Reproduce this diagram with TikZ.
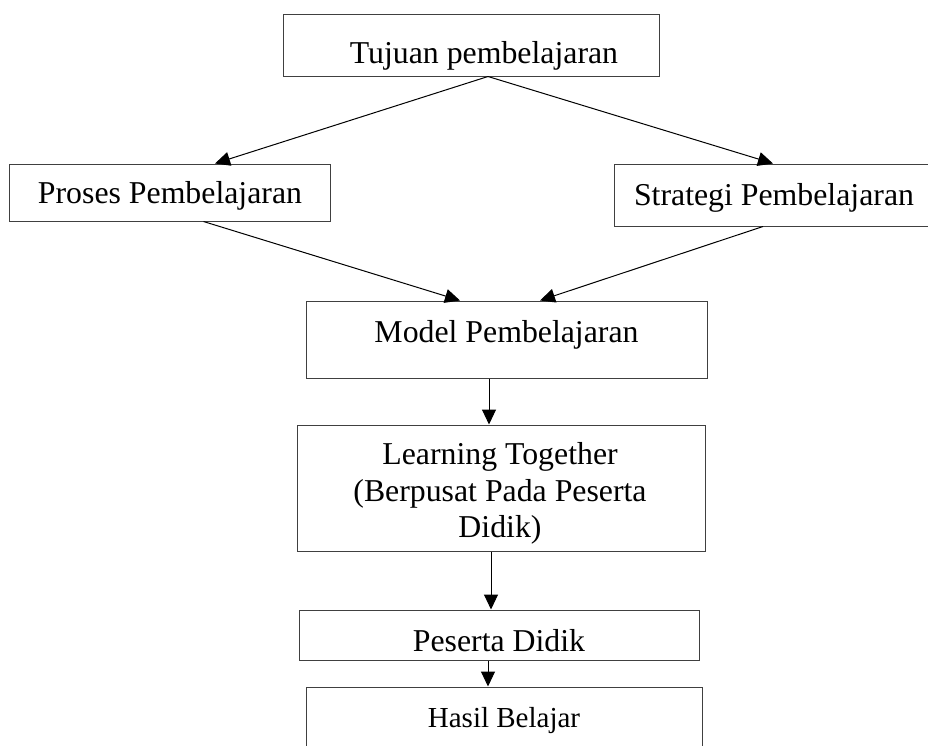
\documentclass[tikz,border=0pt]{standalone}
\usepackage{fontspec}
\setmainfont{Liberation Serif}
\usetikzlibrary{arrows.meta,calc}
\begin{document}
\begin{tikzpicture}[x=1pt,y=-1pt,
  box/.style={draw=black!75,line width=1pt,inner sep=0pt,anchor=center},
  txt/.style={inner sep=0pt,font=\fontsize{31.8}{36.5}\selectfont},
  conn/.style={draw=black,line width=1pt,-{Triangle[length=15pt,width=14pt]}}]
\clip (0,0) rectangle (928,745);
\fill[white] (0,0) rectangle (928,745);
% boxes
\node[box,minimum width=376pt,minimum height=62pt] (tujuan) at (471,45) {};
\node[box,minimum width=321pt,minimum height=57pt] (proses) at (169.5,192.5) {};
\node[box,minimum width=320pt,minimum height=62pt] (strategi) at (774,195) {};
\node[box,minimum width=401pt,minimum height=77pt] (model) at (506.5,339.5) {};
\node[box,minimum width=408pt,minimum height=126pt] (learning) at (501,488) {};
\node[box,minimum width=400pt,minimum height=50pt] (peserta) at (499,635) {};
\node[box,minimum width=396pt,minimum height=60pt] (hasil) at (504,717) {};
% texts
\node[txt,anchor=base] (tTujuan) at (484,63) {Tujuan pembelajaran};
\node[txt,anchor=base] (tProses) at (170,203) {Proses Pembelajaran};
\node[txt,anchor=base] (tStrategi) at (774,205) {Strategi Pembelajaran};
\node[txt,anchor=base] (tModel) at (506.5,342) {Model Pembelajaran};
\node[txt,align=center,anchor=center] (tLearning) at (500,493.5) {Learning Together\\(Berpusat Pada Peserta\\Didik)};
\node[txt,anchor=base] (tPeserta) at (499,651) {Peserta Didik};
\node[txt,anchor=base,font=\fontsize{29}{33}\selectfont] (tHasil) at (504,727) {Hasil Belajar};
% connectors
\draw[conn] ($(tujuan.south)+(17,0)$) -- ($(proses.north)+(45.5,0)$);
\draw[conn] ($(tujuan.south)+(17,0)$) -- ($(strategi.north)+(-1,0)$);
\draw[conn] ($(proses.south)+(34,0)$) -- ($(model.north)+(-46.5,0)$);
\draw[conn] ($(strategi.south)+(-11,0)$) -- ($(model.north)+(33.5,0)$);
\draw[conn] ($(model.south)+(-17.5,0)$) -- ($(learning.north)+(-12,0)$);
\draw[conn] ($(learning.south)+(-10,0)$) -- ($(peserta.north)+(-8,0)$);
\draw[conn] ($(peserta.south)+(-11,0)$) -- ($(hasil.north)+(-16,0)$);
\end{tikzpicture}
\end{document}
